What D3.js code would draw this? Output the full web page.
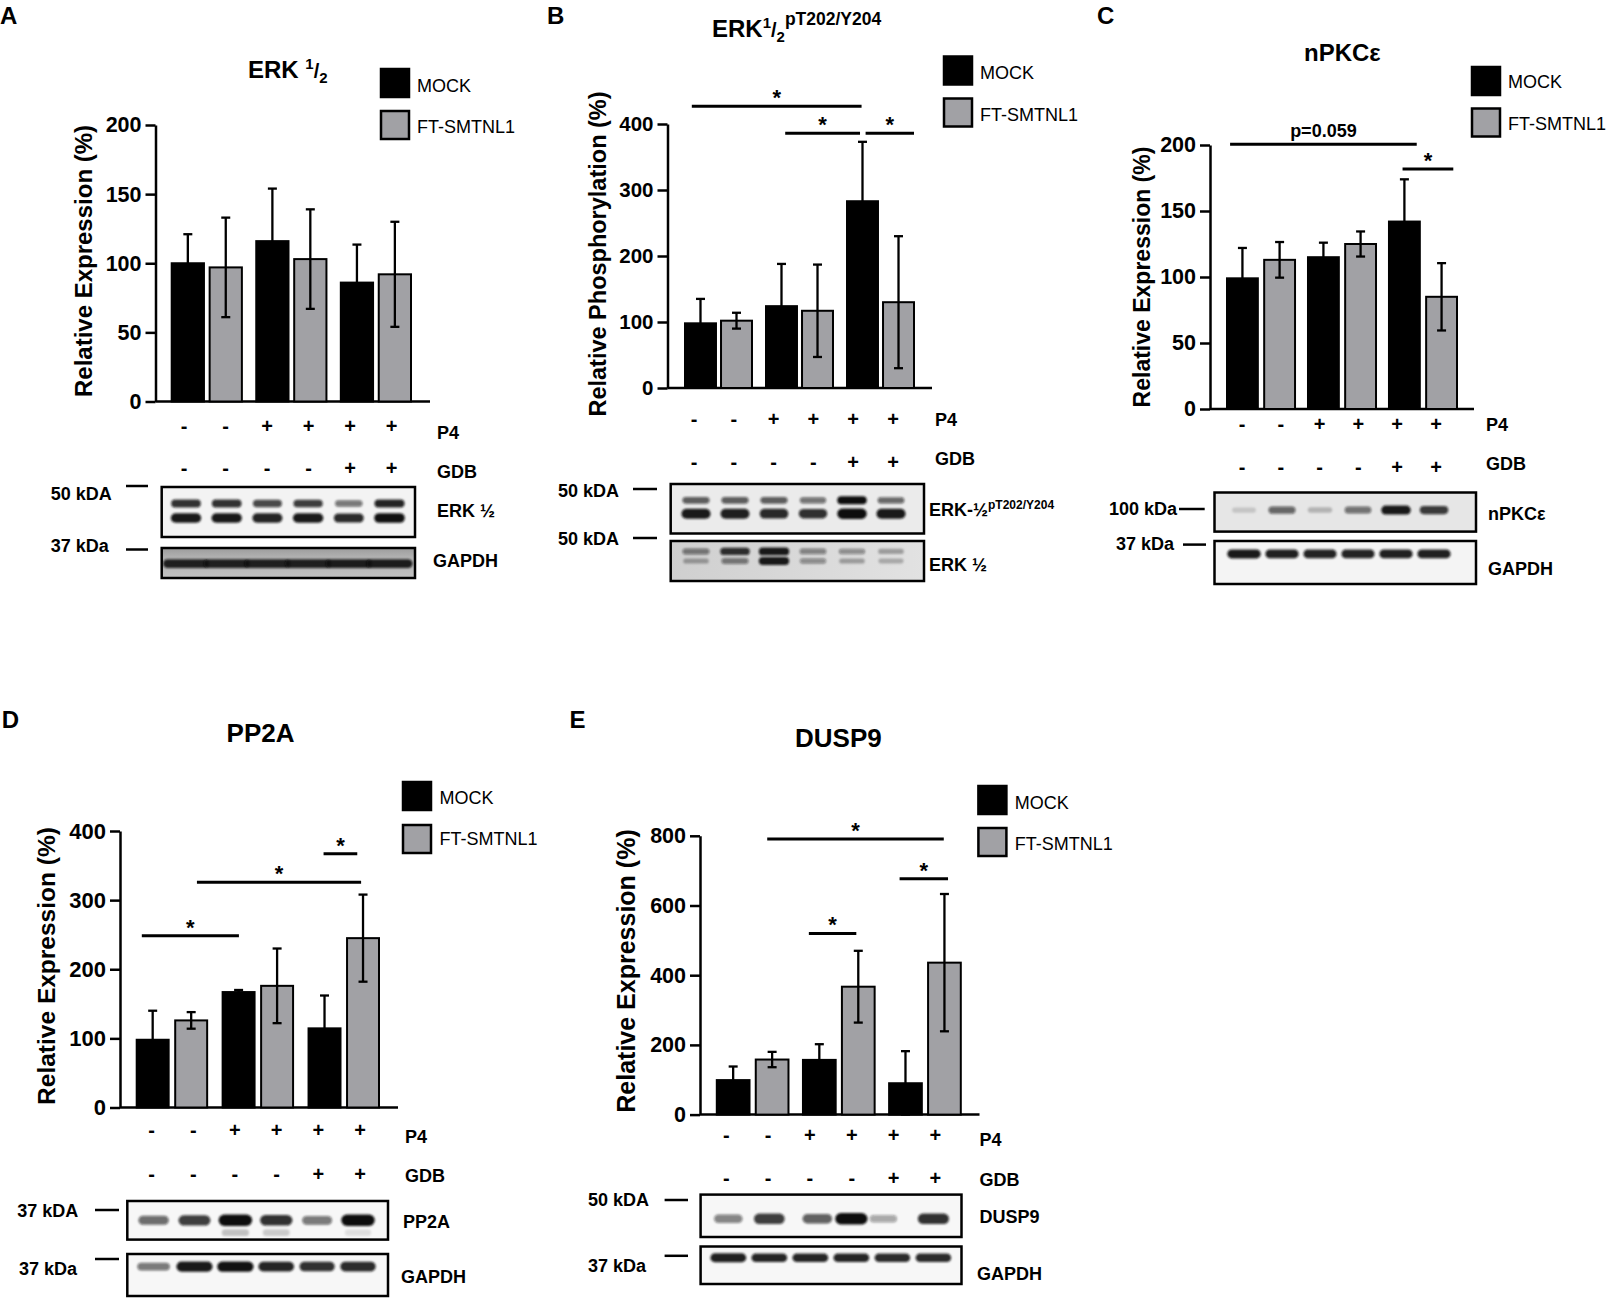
<!DOCTYPE html>
<html><head><meta charset="utf-8">
<script src="https://cdn.jsdelivr.net/npm/d3@7"></script>
<style>
body{margin:0;background:#fff}
svg{display:block}
text{font-family:'Liberation Sans',Arial,Helvetica,sans-serif;white-space:pre}
</style>
</head><body>
<svg id="fig" width="1608" height="1301"></svg>
<script>
// ================= DATA =================
const seriesNames = ["MOCK", "FT-SMTNL1"];
const p4Row  = ["-", "-", "+", "+", "+", "+"];
const gdbRow = ["-", "-", "-", "-", "+", "+"];

// A: ERK 1/2
const erkMean  = [100, 97, 116, 103, 86, 92];
const erkSD    = [21, 36, 38, 36, 27.5, 38];
const erkTicks = [0, 50, 100, 150, 200];
const erkSig   = [];

// B: ERK 1/2 pT202/Y204
const perkMean  = [98, 102, 124, 117, 283, 130];
const perkSD    = [37, 12, 64, 70, 90, 100];
const perkTicks = [0, 100, 200, 300, 400];
// [fromBar, fromFrac, toBar, toFrac, yValue, label]
const perkSig   = [[0, 0.22, 4, 0.47, 427, "*"], [2, 0.62, 4, 0.42, 386, "*"], [4, 0.6, 5, 1.0, 386, "*"]];

// C: nPKCe
const pkcMean  = [99, 113, 115, 125, 142, 85];
const pkcSD    = [23, 13.5, 11, 9.5, 32, 25.5];
const pkcTicks = [0, 50, 100, 150, 200];
const pkcSig   = [[0, 0.1, 4, 0.9, 200.5, "p=0.059"], [4, 0.44, 5, 0.88, 181.8, "*"]];

// D: PP2A
const pp2aMean  = [98, 126, 167, 176, 114.5, 245];
const pp2aSD    = [42, 12, 3, 54, 47.5, 63];
const pp2aTicks = [0, 100, 200, 300, 400];
const pp2aSig   = [[0, 0.16, 2, 0.51, 248.5, "*"], [1, 0.68, 5, 0.44, 326, "*"], [4, 0.47, 5, 0.32, 367, "*"]];

// E: DUSP9
const duspMean  = [99, 158, 157, 367, 90, 436];
const duspSD    = [39, 22, 45, 103, 92, 197];
const duspTicks = [0, 200, 400, 600, 800];
const duspSig   = [[1, 0.35, 5, 0.48, 791, "*"], [2, 0.18, 3, 0.44, 520, "*"], [4, 0.32, 5, 0.61, 677, "*"]];

// Blot band intensities (0..1) per lane
const blotErkUpper   = [0.85, 0.85, 0.75, 0.8, 0.55, 0.9];
const blotErkLower   = [0.95, 0.95, 0.9, 0.95, 0.88, 0.98];
const blotGapdhA     = [0.9, 0.9, 0.9, 0.9, 0.92, 0.92];
const blotPerkUpper  = [0.65, 0.65, 0.65, 0.55, 1.0, 0.6];
const blotPerkLower  = [0.95, 0.92, 0.88, 0.85, 1.0, 0.95];
const blotErkBUpper  = [0.5, 0.85, 0.95, 0.45, 0.4, 0.3];
const blotErkBLower  = [0.3, 0.5, 0.95, 0.4, 0.3, 0.25];
const blotPkc        = [0.15, 0.6, 0.22, 0.55, 0.95, 0.8];
const blotGapdhC     = [0.95, 0.92, 0.9, 0.9, 0.92, 0.92];
const blotPp2a       = [0.6, 0.8, 1.0, 0.85, 0.55, 1.0];
const blotPp2aSmear  = [0, 0, 0.22, 0.18, 0, 0.1];
const blotGapdhD     = [0.55, 0.95, 0.98, 0.9, 0.85, 0.88];
const blotDusp       = [0.5, 0.8, 0.65, 1.0, 0.35, 0.85];
const blotGapdhE     = [0.92, 0.9, 0.9, 0.9, 0.88, 0.88];

// ================= LAYOUT / STYLE =================
const GRAY = "#a1a1a5";
const noShift = [0, 0, 0, 0, 0, 0];
const duspShift = [0, 0, 7, 0, -9, 0];
const panels = [
  { letter: "A", mean: erkMean, sd: erkSD, ticks: erkTicks, sig: erkSig,
    title: [["ERK ", 24, 0], ["1", 15, -9], ["/", 20, 0], ["2", 15, 5]],
    ylabel: "Relative Expression (%)",
    L: { axisX: 155.5, y0: 401.5, yTop: 125, axisEnd: 430, bx0: 171.7, bx1: 411, gPad: 0.17, bPad: 0.15,
         sx0: 184, sx1: 391.5, rowY: [426, 468], rowLX: 437, rowLB: [439, 478], tickFont: 21.5,
         yl: [83, 261, 24], title: [248, 78], letter: [0, 24], leg: [381, 69, 111, 417, 92, 133] },
    blots: [
      { x0: 161.7, x1: 415, y0: 487, y1: 537, bg: "#f3f3f3", rows: [[blotErkUpper, 0.33, 7.5], [blotErkLower, 0.62, 8.5]], wf: 0.72, sh: noShift,
        label: [["ERK ½", 18, 0]], lx: 437, lb: 517, mk: "50 kDA", mkx: 50.7, mkb: 500, ml: [126, 148], mly: 486 },
      { x0: 161.7, x1: 415, y0: 548, y1: 578, bg: "url(#gA)", rows: [[blotGapdhA, 0.52, 8]], wf: 1.1, sh: noShift,
        label: [["GAPDH", 18, 0]], lx: 433, lb: 567, mk: "37 kDa", mkx: 50.7, mkb: 552, ml: [126, 148], mly: 549.5 } ] },
  { letter: "B", mean: perkMean, sd: perkSD, ticks: perkTicks, sig: perkSig,
    title: [["ERK", 24, 0], ["1", 15, -9], ["/", 20, 0], ["2", 15, 5], ["pT202/Y204", 17.5, -12]],
    ylabel: "Relative Phosphorylation (%)",
    L: { axisX: 667.5, y0: 388, yTop: 124, axisEnd: 932, bx0: 685, bx1: 914, gPad: 0.173, bPad: 0.14,
         sx0: 694, sx1: 893, rowY: [419, 462], rowLX: 935, rowLB: [426, 465], tickFont: 20.5,
         yl: [598, 254, 23.5], title: [712, 37], letter: [547, 24], leg: [944, 56.5, 98.5, 980, 79, 121] },
    blots: [
      { x0: 670.7, x1: 924, y0: 484, y1: 533.5, bg: "#ebebeb", rows: [[blotPerkUpper, 0.33, 7], [blotPerkLower, 0.6, 9]], wf: 0.72, sh: noShift,
        label: [["ERK-½", 18, 0], ["pT202/Y204", 12, -7]], lx: 929, lb: 516, mk: "50 kDA", mkx: 558, mkb: 497, ml: [633, 657], mly: 489 },
      { x0: 670.7, x1: 924, y0: 541, y1: 581, bg: "url(#gB)", rows: [[blotErkBUpper, 0.26, 7], [blotErkBLower, 0.5, 7]], wf: 0.75, sh: noShift,
        label: [["ERK ½", 18, 0]], lx: 929, lb: 570.6, mk: "50 kDA", mkx: 558, mkb: 544.6, ml: [633, 657], mly: 538 } ] },
  { letter: "C", mean: pkcMean, sd: pkcSD, ticks: pkcTicks, sig: pkcSig,
    title: [["nPKCε", 24, 0]],
    ylabel: "Relative Expression (%)",
    L: { axisX: 1210, y0: 409, yTop: 145, axisEnd: 1474, bx0: 1227, bx1: 1457, gPad: 0.16, bPad: 0.17,
         sx0: 1242, sx1: 1436, rowY: [424, 466.5], rowLX: 1486, rowLB: [431, 470], tickFont: 21.5,
         yl: [1142, 277, 23], title: [1304, 61], letter: [1097, 24], leg: [1472, 67, 108.5, 1508, 88, 130] },
    blots: [
      { x0: 1214.5, x1: 1476, y0: 492.5, y1: 531.6, bg: "#e6e6e6", rows: [[blotPkc, 0.45, 8]], wf: 0.75, sh: noShift,
        label: [["nPKCε", 18, 0]], lx: 1488, lb: 520, mk: "100 kDa", mkx: 1109, mkb: 515, ml: [1179, 1204.7], mly: 509 },
      { x0: 1214.5, x1: 1476, y0: 541, y1: 584, bg: "#f4f4f4", rows: [[blotGapdhC, 0.3, 8]], wf: 0.85, sh: noShift,
        label: [["GAPDH", 18, 0]], lx: 1488, lb: 575, mk: "37 kDa", mkx: 1116, mkb: 550, ml: [1183, 1206], mly: 544.6 } ] },
  { letter: "D", mean: pp2aMean, sd: pp2aSD, ticks: pp2aTicks, sig: pp2aSig,
    title: [["PP2A", 26, 0]],
    ylabel: "Relative Expression (%)",
    L: { axisX: 120, y0: 1107.5, yTop: 831, axisEnd: 398, bx0: 136.7, bx1: 379, gPad: 0.18, bPad: 0.17,
         sx0: 151.6, sx1: 360, rowY: [1130, 1173.5], rowLX: 405, rowLB: [1143, 1182], tickFont: 22,
         yl: [46, 966, 24.5], title: [226.6, 742], letter: [1.7, 728], leg: [403, 782, 825, 439.4, 804, 845] },
    blots: [
      { x0: 127.3, x1: 388, y0: 1201, y1: 1239.6, bg: "#f7f7f7", rows: [[blotPp2aSmear, 0.82, 10], [blotPp2a, 0.5, 10]], wf: 0.78, sh: noShift,
        label: [["PP2A", 18, 0]], lx: 403, lb: 1228, mk: "37 kDA", mkx: 17.3, mkb: 1216.5, ml: [95, 119], mly: 1210 },
      { x0: 127.3, x1: 388, y0: 1254, y1: 1296, bg: "#f7f7f7", rows: [[blotGapdhD, 0.3, 9]], wf: 0.85, sh: noShift,
        label: [["GAPDH", 18, 0]], lx: 401, lb: 1283, mk: "37 kDa", mkx: 19, mkb: 1275, ml: [95, 119], mly: 1259 } ] },
  { letter: "E", mean: duspMean, sd: duspSD, ticks: duspTicks, sig: duspSig,
    title: [["DUSP9", 26, 0]],
    ylabel: "Relative Expression (%)",
    L: { axisX: 700, y0: 1114.6, yTop: 835.8, axisEnd: 979.5, bx0: 716.8, bx1: 960.8, gPad: 0.168, bPad: 0.16,
         sx0: 726.3, sx1: 935.4, rowY: [1134.6, 1178], rowLX: 979.5, rowLB: [1146, 1186], tickFont: 21.5,
         yl: [626, 971, 25], title: [795, 747], letter: [569.4, 728], leg: [978.4, 786, 828, 1014.7, 808.6, 850] },
    blots: [
      { x0: 700.6, x1: 961.5, y0: 1194.6, y1: 1237, bg: "#f7f7f7", rows: [[blotDusp, 0.57, 10]], wf: 0.75, sh: duspShift,
        label: [["DUSP9", 18, 0]], lx: 979.5, lb: 1223, mk: "50 kDA", mkx: 588, mkb: 1206, ml: [664.6, 688], mly: 1200 },
      { x0: 700.6, x1: 961.5, y0: 1246.5, y1: 1284, bg: "#f7f7f7", rows: [[blotGapdhE, 0.3, 8]], wf: 0.85, sh: noShift,
        label: [["GAPDH", 18, 0]], lx: 977, lb: 1280, mk: "37 kDa", mkx: 588, mkb: 1272, ml: [664.6, 688], mly: 1255.8 } ] }
];

// ================= DRAW =================
const svg = d3.select("#fig");
const defs = svg.append("defs");
defs.append("filter").attr("id", "blur").attr("x", "-30%").attr("y", "-80%").attr("width", "160%").attr("height", "260%")
  .append("feGaussianBlur").attr("stdDeviation", 1.3);
const gA = defs.append("linearGradient").attr("id", "gA").attr("x1", 0).attr("y1", 0).attr("x2", 0).attr("y2", 1);
gA.append("stop").attr("offset", "0%").attr("stop-color", "#9c9c9c");
gA.append("stop").attr("offset", "35%").attr("stop-color", "#b4b4b4");
gA.append("stop").attr("offset", "100%").attr("stop-color", "#c2c2c2");
const gB = defs.append("linearGradient").attr("id", "gB").attr("x1", 0).attr("y1", 0).attr("x2", 1).attr("y2", 0);
gB.append("stop").attr("offset", "0%").attr("stop-color", "#cfcfcf");
gB.append("stop").attr("offset", "100%").attr("stop-color", "#e2e2e2");

function richText(g, segs, x, y, weight) {
  const t = g.append("text").attr("x", x).attr("y", y).attr("font-weight", weight || "bold").attr("fill", "#000");
  let cur = 0;
  segs.forEach(([txt, size, off]) => {
    t.append("tspan").attr("font-size", size).attr("dy", off - cur).text(txt);
    cur = off;
  });
  return t;
}

let clipN = 0;
panels.forEach(p => {
  const L = p.L;
  const g = svg.append("g");

  g.append("text").attr("x", L.letter[0]).attr("y", L.letter[1]).attr("font-size", 24).attr("font-weight", "bold").text(p.letter);
  richText(g, p.title, L.title[0], L.title[1]);

  // legend
  const leg = g.append("g");
  seriesNames.forEach((s, i) => {
    leg.append("rect").attr("x", L.leg[0]).attr("y", L.leg[1 + i]).attr("width", 28).attr("height", 28)
      .attr("fill", i === 0 ? "#000" : GRAY).attr("stroke", "#000").attr("stroke-width", 2.5);
    leg.append("text").attr("x", L.leg[3]).attr("y", L.leg[4 + i]).attr("font-size", 18).text(s);
  });

  // scales
  const y = d3.scaleLinear().domain([0, d3.max(p.ticks)]).range([L.y0, L.yTop]);
  const gx = d3.scaleBand().domain(d3.range(3)).range([L.bx0, L.bx1]).paddingInner(L.gPad);
  const sx = d3.scaleBand().domain(seriesNames).range([0, gx.bandwidth()]).paddingInner(L.bPad);
  const bars = p.mean.map((m, i) => ({ i, m, sd: p.sd[i], s: seriesNames[i % 2], grp: Math.floor(i / 2) }));
  const bx = d => gx(d.grp) + sx(d.s);
  const fx = (bi, f) => gx(Math.floor(bi / 2)) + sx(seriesNames[bi % 2]) + f * sx.bandwidth();

  // y axis
  const ax = g.append("g").attr("transform", `translate(${L.axisX},0)`)
    .call(d3.axisLeft(y).tickValues(p.ticks).tickSize(10).tickSizeOuter(0).tickPadding(4).tickFormat(d3.format("d")));
  ax.selectAll("path,line").attr("stroke", "#000").attr("stroke-width", 2.5);
  ax.selectAll("text").attr("font-size", L.tickFont).attr("font-weight", "bold").attr("fill", "#000")
    .attr("font-family", "'Liberation Sans',Arial,sans-serif");
  g.append("line").attr("x1", L.axisX).attr("x2", L.axisEnd).attr("y1", y(0)).attr("y2", y(0))
    .attr("stroke", "#000").attr("stroke-width", 2.5);

  // y label
  g.append("text").attr("transform", `translate(${L.yl[0]},${L.yl[1]}) rotate(-90)`)
    .attr("text-anchor", "middle").attr("dominant-baseline", "central")
    .attr("font-size", L.yl[2]).attr("font-weight", "bold").text(p.ylabel);

  // bars
  g.selectAll(null).data(bars).join("rect")
    .attr("x", bx).attr("width", sx.bandwidth())
    .attr("y", d => y(d.m)).attr("height", d => y(0) - y(d.m))
    .attr("fill", d => d.s === seriesNames[0] ? "#000" : GRAY)
    .attr("stroke", "#000").attr("stroke-width", 2);

  // error bars
  const eb = g.selectAll(null).data(bars).join("g").attr("stroke", "#000").attr("stroke-width", 2.3);
  const cx = d => bx(d) + sx.bandwidth() / 2;
  const lo = d => y(Math.max(0, d.m - d.sd)), hi = d => y(d.m + d.sd);
  eb.append("line").attr("x1", cx).attr("x2", cx).attr("y1", lo).attr("y2", hi);
  eb.append("line").attr("x1", d => cx(d) - 4.5).attr("x2", d => cx(d) + 4.5).attr("y1", hi).attr("y2", hi);
  eb.append("line").attr("x1", d => cx(d) - 4.5).attr("x2", d => cx(d) + 4.5).attr("y1", lo).attr("y2", lo);

  // significance brackets
  p.sig.forEach(([b0, f0, b1, f1, v, lab]) => {
    const xa = fx(b0, f0), xb = fx(b1, f1), yy = y(v);
    g.append("line").attr("x1", xa).attr("x2", xb).attr("y1", yy).attr("y2", yy)
      .attr("stroke", "#000").attr("stroke-width", 3);
    const star = lab === "*";
    g.append("text").attr("x", (xa + xb) / 2).attr("y", yy - (star ? 1 : 7.5)).attr("text-anchor", "middle")
      .attr("font-size", star ? 22 : 18).attr("font-weight", "bold").text(lab);
  });

  // treatment rows
  const lane = d3.scalePoint().domain(d3.range(6)).range([L.sx0, L.sx1]);
  [[p4Row, "P4"], [gdbRow, "GDB"]].forEach(([row, name], ri) => {
    g.selectAll(null).data(row).join("text")
      .attr("x", (d, i) => lane(i)).attr("y", L.rowY[ri] + 7).attr("text-anchor", "middle")
      .attr("font-size", 20).attr("font-weight", "bold").text(d => d);
    g.append("text").attr("x", L.rowLX).attr("y", L.rowLB[ri]).attr("font-size", 18).attr("font-weight", "bold").text(name);
  });

  // blots
  p.blots.forEach(b => {
    const id = "clip" + (clipN++);
    defs.append("clipPath").attr("id", id).append("rect")
      .attr("x", b.x0).attr("y", b.y0).attr("width", b.x1 - b.x0).attr("height", b.y1 - b.y0);
    const bg = g.append("g").attr("clip-path", `url(#${id})`);
    bg.append("rect").attr("x", b.x0).attr("y", b.y0).attr("width", b.x1 - b.x0).attr("height", b.y1 - b.y0).attr("fill", b.bg);
    const laneX = d3.scalePoint().domain(d3.range(6)).range([L.sx0 + 2, L.sx1 - 2]);
    const step = laneX.step();
    const h = b.y1 - b.y0;
    const bw = v => step * (b.wf * (0.8 + 0.25 * v));
    const bh = (v, th) => th * (0.55 + 0.6 * v);
    b.rows.forEach(([vals, frac, th]) => {
      bg.selectAll(null).data(vals).join("rect")
        .attr("x", (v, i) => laneX(i) + b.sh[i] - bw(v) / 2)
        .attr("width", v => bw(v))
        .attr("y", v => b.y0 + frac * h - bh(v, th) / 2)
        .attr("height", v => bh(v, th))
        .attr("rx", v => bh(v, th) / 2)
        .attr("fill", "#111").attr("fill-opacity", v => v)
        .attr("filter", "url(#blur)");
    });
    g.append("rect").attr("x", b.x0).attr("y", b.y0).attr("width", b.x1 - b.x0).attr("height", b.y1 - b.y0)
      .attr("fill", "none").attr("stroke", "#000").attr("stroke-width", 2.5);
    richText(g, b.label, b.lx, b.lb);
    g.append("text").attr("x", b.mkx).attr("y", b.mkb).attr("font-size", 18).attr("font-weight", "bold").text(b.mk);
    g.append("line").attr("x1", b.ml[0]).attr("x2", b.ml[1]).attr("y1", b.mly).attr("y2", b.mly)
      .attr("stroke", "#000").attr("stroke-width", 2.5);
  });
});
</script>
</body></html>
